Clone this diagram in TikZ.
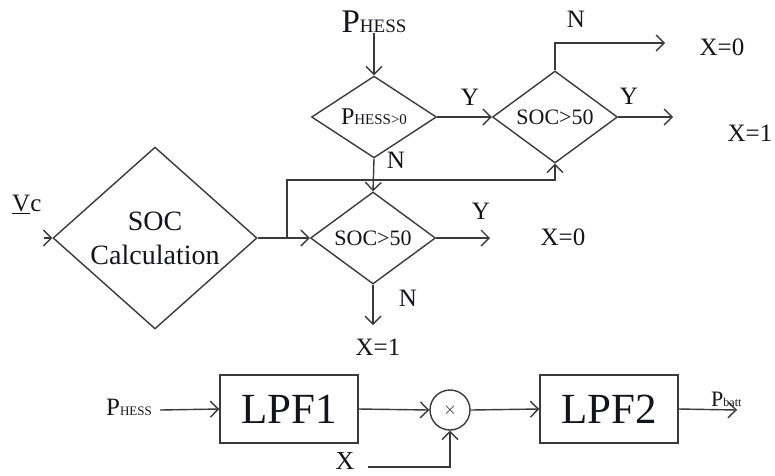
\documentclass[tikz,border=0pt]{standalone}
\usepackage{fontspec}
\setmainfont{Liberation Serif}
\usepackage{tikz}
\usetikzlibrary{shapes.geometric, arrows.meta, positioning, calc}
\definecolor{FlowLine}{RGB}{58, 58, 58}
\definecolor{FlowText}{RGB}{20, 20, 30}

\tikzset{
  decide/.style={diamond, draw=FlowLine, line width=1.4pt, inner sep=0pt,
    minimum width=125pt, minimum height=71pt, text=FlowText},
  filterbox/.style={rectangle, draw=FlowLine, line width=1.4pt, minimum width=138pt,
    minimum height=68pt, text=FlowText, font=\fontsize{43}{45}\selectfont},
  flow/.style={draw=FlowLine, line width=1.4pt, -{Straight Barb[length=8pt,width=16pt,line width=1.4pt]}},
  lbl/.style={text=FlowText, inner sep=0pt, font=\fontsize{25}{27}\selectfont},
}

\begin{document}
\begin{tikzpicture}[x=1pt,y=-1pt]
  \path[use as bounding box] (0,0) rectangle (775,475);

  % Decision part
  \node[lbl] (phtop) at (374,22) {\fontsize{33}{35}\selectfont P\fontsize{19}{21}\selectfont HESS};
  \node[decide] (d1) at (374,117) {\fontsize{24}{26}\selectfont P\fontsize{15}{17}\selectfont HESS>0};
  \node[decide] (d2) at (555,117) {\fontsize{22}{24}\selectfont SOC>50};
  \node[decide] (d3) at (373,238) {\fontsize{22}{24}\selectfont SOC>50};
  \node[diamond, draw=FlowLine, line width=1.4pt, inner sep=0pt, minimum width=204pt,
    minimum height=138pt, text=FlowText, align=center, font=\fontsize{28}{34}\selectfont]
    (calc) at (155,238) {SOC\\Calculation};
  \node[lbl, anchor=south west] (vc) at (12,214) {\underline{V}c};

  \coordinate (vcin) at (44,238);
  \coordinate (n2end) at (665,43);
  \coordinate (y2end) at (673,117);
  \coordinate (y3end) at (490,238);
  \coordinate (n3end) at (373,325);
  \coordinate (tap) at (287,238);

  \draw[flow] (vcin) -- (calc.west);
  \draw[flow] (phtop.south) -- (d1.north);
  \draw[flow] (d1.east) -- (d2.west);
  \draw[flow] (d2.north) |- (n2end);
  \draw[flow] (d2.east) -- (y2end);
  \draw[flow] (d1.south) -- (d3.north);
  \draw[flow] (calc.east) -- (d3.west);
  \draw[flow] (tap) |- (287,180) -| (d2.south);
  \draw[flow] (d3.east) -- (y3end);
  \draw[flow] (d3.south) -- (n3end);

  \node[lbl] (y1) at (470,97) {Y};
  \node[lbl] (n2) at (576,19) {N};
  \node[lbl] (y2) at (629,96) {Y};
  \node[lbl] (n1) at (396,160) {N};
  \node[lbl] (y3) at (481,211) {Y};
  \node[lbl] (n3) at (408,298) {N};
  \node[lbl] (x0a) at (722,47) {X=0};
  \node[lbl] (x1a) at (750,133) {X=1};
  \node[lbl] (x0b) at (563,237) {X=0};
  \node[lbl] (x1b) at (378,347) {X=1};

  % Filter part
  \node[filterbox] (lpf1) at (289,409) {LPF1};
  \node[filterbox] (lpf2) at (609,409) {LPF2};
  \node[circle, draw=FlowLine, line width=1.4pt, minimum size=40pt, inner sep=0pt,
    text=FlowText] (mult) at (450,410) {\fontsize{18}{18}\selectfont$\times$};
  \node[lbl, anchor=south west] (phin) at (106,416) {\fontsize{25}{27}\selectfont P\fontsize{13}{15}\selectfont HESS};
  \node[lbl] (xin) at (345,461) {\fontsize{26}{28}\selectfont X};
  \node[lbl, anchor=south west] (pbatt) at (711,407) {\fontsize{22}{24}\selectfont P\fontsize{12}{14}\selectfont batt};

  \coordinate (phinend) at (160,410);
  \coordinate (xstart) at (368,467);
  \coordinate (pbattend) at (737,410);

  \draw[flow] (phinend) -- (lpf1.west);
  \draw[flow] (lpf1.east) -- (mult.west);
  \draw[flow] (mult.east) -- (lpf2.west);
  \draw[flow] (lpf2.east) -- (pbattend);
  \draw[flow] (xstart) -| (mult.south);
\end{tikzpicture}
\end{document}
